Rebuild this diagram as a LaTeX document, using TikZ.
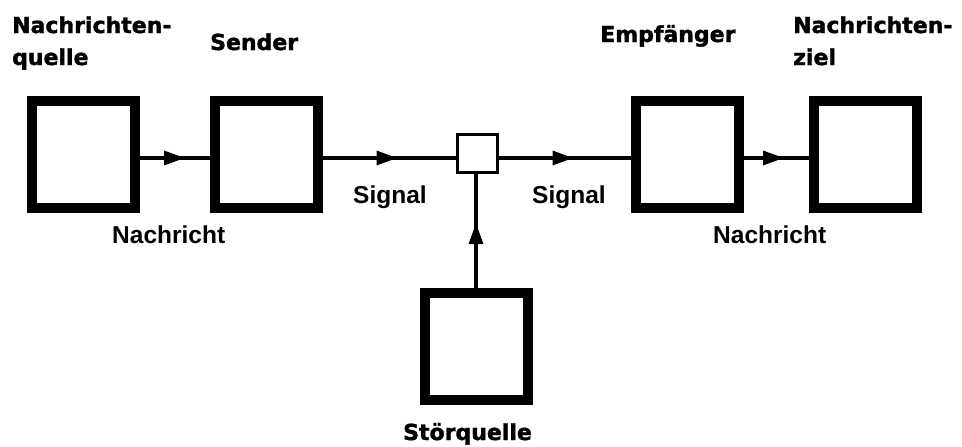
\documentclass[tikz,border=0pt]{standalone}
\usepackage{fontspec}
\setmainfont{Liberation Sans}
\newfontfamily\heavyfont{DejaVu Sans}[BoldFeatures={FakeBold=1.6}]
\usetikzlibrary{arrows.meta,decorations.markings}
\begin{document}
\begin{tikzpicture}[x=1pt,y=-1pt,
  bigbox/.style={draw=black,line width=10pt,minimum width=103pt,minimum height=107pt,inner sep=0pt,fill=white},
  smallbox/.style={draw=black,line width=3pt,minimum width=40pt,minimum height=38pt,inner sep=0pt,fill=white},
  heavylbl/.style={anchor=base west,inner sep=0pt,font=\heavyfont\bfseries\fontsize{22}{26}\selectfont},
  lbl/.style={anchor=base west,inner sep=0pt,font=\bfseries\fontsize{24.5}{28}\selectfont},
  conn/.style={line width=3.2pt},
  midarrow/.style={postaction={decorate},decoration={markings,
     mark=at position #1 with {\arrow{Triangle[length=21pt,width=14pt]}}}}
]
\useasboundingbox[fill=white] (0,0) rectangle (962,447);
% boxes
\node[bigbox] (quelle) at (83.5,154) {};
\node[bigbox] (sender) at (266,154) {};
\node[smallbox] (kanal) at (477,153) {};
\node[bigbox] (empf) at (687.5,154) {};
\node[bigbox] (ziel) at (865,154) {};
\node[bigbox] (stoer) at (476,346.5) {};
% connectors
\draw[conn,midarrow=45pt] ([yshift=-4pt]quelle.east) -- ([yshift=-4pt]sender.west);
\draw[conn,midarrow=75pt] ([yshift=-4pt]sender.east) -- ([yshift=-5pt]kanal.west);
\draw[conn,midarrow=75pt] ([yshift=-5pt]kanal.east) -- ([yshift=-4pt]empf.west);
\draw[conn,midarrow=40pt] ([yshift=-4pt]empf.east) -- ([yshift=-4pt]ziel.west);
\draw[conn,midarrow=65pt] (stoer.north) -- (stoer.north |- kanal.south);
% labels
\node[heavylbl] (lq1) at (12,33) {Nachrichten-};
\node[heavylbl] (lq2) at (12,65) {quelle};
\node[heavylbl] (ls) at (210,50) {Sender};
\node[heavylbl] (le) at (600,42) {Empfänger};
\node[heavylbl] (lz1) at (793,33) {Nachrichten-};
\node[heavylbl] (lz2) at (793,65) {ziel};
\node[heavylbl] (lst) at (403,440) {Störquelle};
\node[lbl] (n1) at (112,243) {Nachricht};
\node[lbl] (n2) at (713,243) {Nachricht};
\node[lbl] (s1) at (353,203) {Signal};
\node[lbl] (s2) at (532,203) {Signal};
\end{tikzpicture}
\end{document}
